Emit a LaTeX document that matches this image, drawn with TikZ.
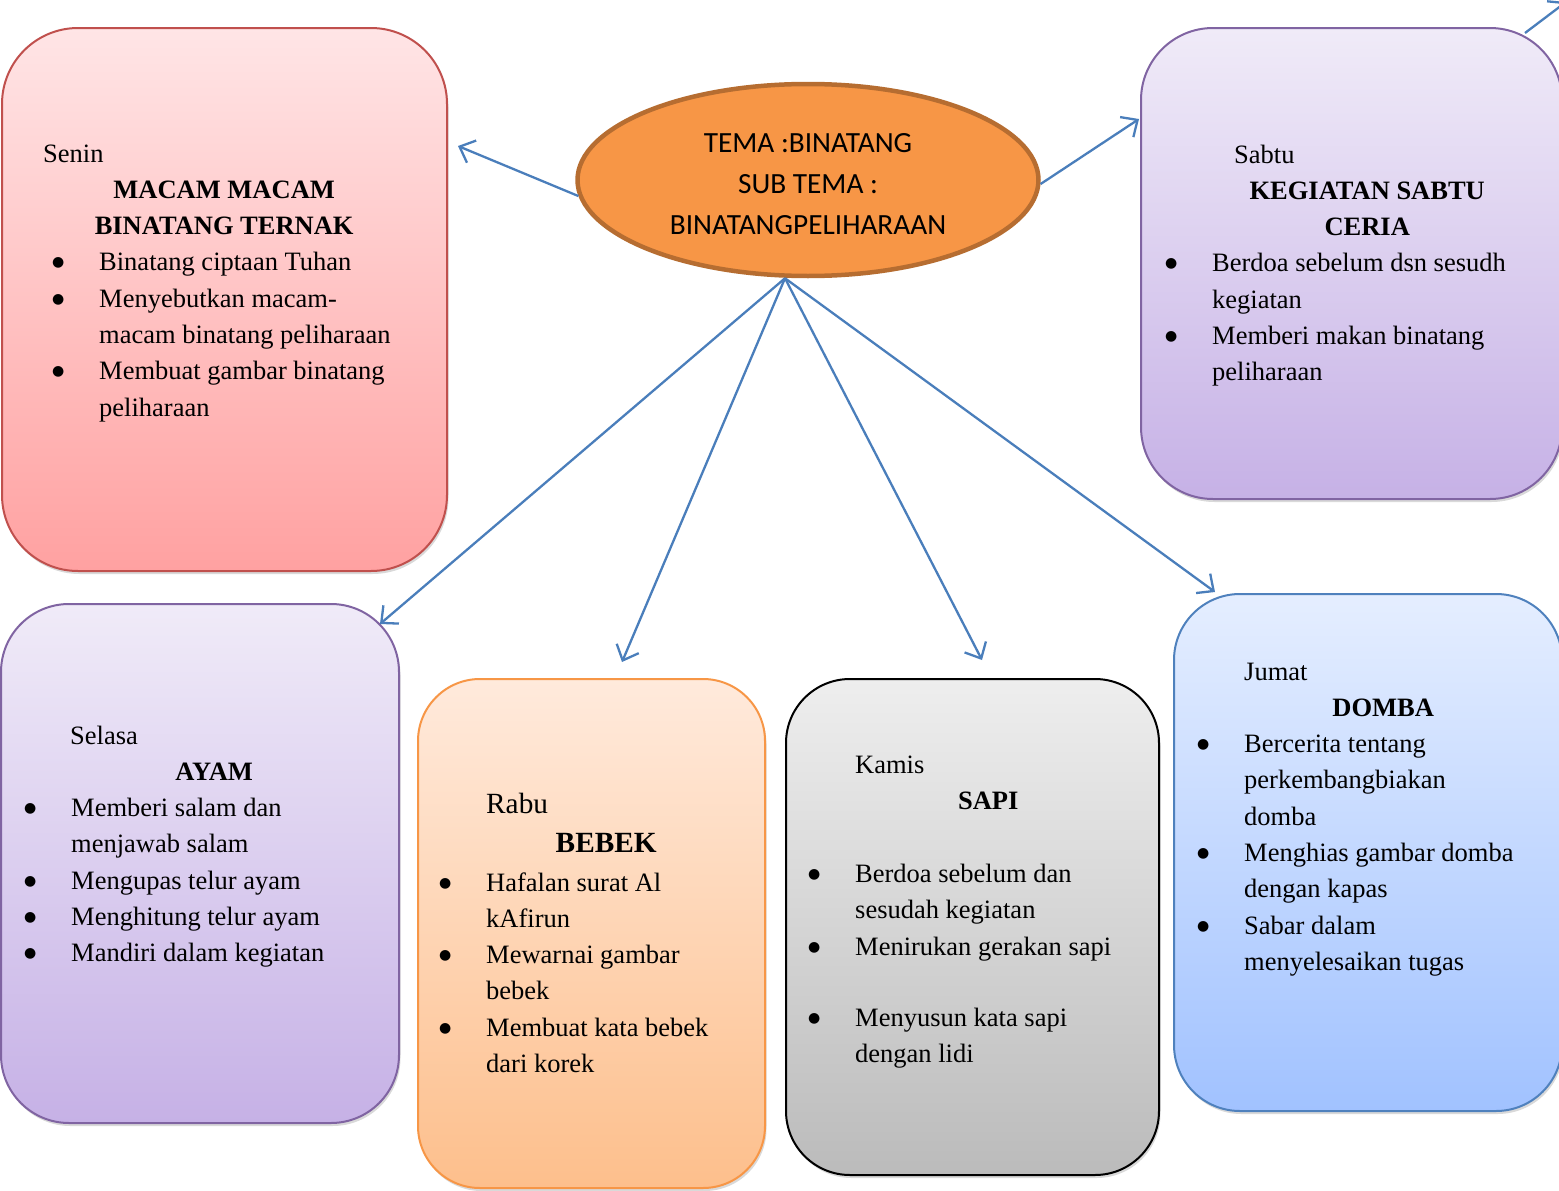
\documentclass[tikz,border=0pt]{standalone}
\usepackage{fontspec}
\setmainfont{Liberation Serif}
\newfontfamily\calib{Carlito}
\newfontfamily\djv{DejaVu Sans}
\usetikzlibrary{shapes.geometric,arrows.meta,shadows,calc}
\definecolor{redT}{HTML}{FFE5E6}\definecolor{redB}{HTML}{FFA1A1}\definecolor{redL}{HTML}{C0504D}
\definecolor{purT}{HTML}{F0EBF8}\definecolor{purB}{HTML}{C6B1E6}\definecolor{purL}{HTML}{8064A2}
\definecolor{orT}{HTML}{FFEADC}\definecolor{orB}{HTML}{FDBF8C}\definecolor{orL}{HTML}{F79646}
\definecolor{grT}{HTML}{EEEEEE}\definecolor{grB}{HTML}{BBBBBB}
\definecolor{blT}{HTML}{E5EEFF}\definecolor{blB}{HTML}{A1C2FF}\definecolor{blL}{HTML}{4F81BD}
\definecolor{elF}{HTML}{F79646}\definecolor{elL}{HTML}{B66D31}
\definecolor{arrC}{HTML}{4A7EBB}
\newcommand\bigbul{\smash{\raisebox{4pt}{\djv\fontsize{14}{0}\selectfont ●}}}
\newcommand\itm[1]{\leavevmode\llap{\makebox[0pt][c]{\bigbul}\hspace{41pt}}#1}
\newcommand\lab[2]{\makebox[0pt][l]{\hspace*{#1pt}#2}}
\newcommand\hd[2]{\makebox[0pt][l]{\hspace*{#1pt}\makebox[0pt][c]{\bfseries #2}}}
\newcommand\bodyfont{\fontsize{26.5}{36.3}\selectfont}
\begin{document}
\begin{tikzpicture}[x=1pt,y=-1pt,
  card/.style={rectangle, line width=2pt, inner sep=0pt,
    drop shadow={shadow xshift=1.5pt,shadow yshift=-3pt,opacity=.3}},
  txt/.style={anchor=base west, inner sep=0pt, align=left},
  arr/.style={draw=arrC, line width=2.3pt, -{Straight Barb[length=13pt,width=24pt,line width=2.3pt]}}]
\useasboundingbox (0,0) rectangle (1559,1191);
% boxes
\node[card, draw=redL, top color=redT, bottom color=redB, rounded corners=76pt,
  minimum width=445pt, minimum height=543pt] (senin) at (224.5,299.5) {};
\node[card, draw=purL, top color=purT, bottom color=purB, rounded corners=72pt,
  minimum width=421pt, minimum height=471pt] (sabtu) at (1351.5,263.5) {};
\node[card, draw=purL, top color=purT, bottom color=purB, rounded corners=68pt,
  minimum width=398pt, minimum height=519pt] (selasa) at (200,863.5) {};
\node[card, draw=orL, top color=orT, bottom color=orB, rounded corners=62pt,
  minimum width=347pt, minimum height=509pt] (rabu) at (591.5,933.5) {};
\node[card, draw=black, top color=grT, bottom color=grB, rounded corners=64pt,
  minimum width=373pt, minimum height=496pt] (kamis) at (972.5,927) {};
\node[card, draw=blL, top color=blT, bottom color=blB, rounded corners=66pt,
  minimum width=388pt, minimum height=517pt] (jumat) at (1368,852.5) {};
% central ellipse
\node[ellipse, draw=elL, fill=elF, line width=4.5pt, minimum width=461pt, minimum height=192pt,
  inner sep=0pt] (tema) at (808,180) {};
\node[align=center, inner sep=0pt, font=\calib\fontsize{29.3}{41}\selectfont] (temaT) at (808,184)
  {TEMA :BINATANG\\SUB TEMA :\\BINATANGPELIHARAAN};
% texts
\node[txt] (seninT) at (99,162) {\parbox[t]{340pt}{\bodyfont\raggedright
  \lab{-56}{Senin}\\
  \hd{125}{MACAM MACAM}\\
  \hd{125}{BINATANG TERNAK}\\
  \itm{Binatang ciptaan Tuhan}\\
  \itm{Menyebutkan macam-}\\
  macam binatang peliharaan\\
  \itm{Membuat gambar binatang}\\
  peliharaan}};
\node[txt] (sabtuT) at (1212,163) {\parbox[t]{340pt}{\bodyfont\raggedright
  \lab{22}{Sabtu}\\
  \hd{155}{KEGIATAN SABTU}\\
  \hd{155}{CERIA}\\
  \itm{Berdoa sebelum dsn sesudh}\\
  kegiatan\\
  \itm{Memberi makan binatang}\\
  peliharaan}};
\node[txt] (selasaT) at (71,744) {\parbox[t]{320pt}{\bodyfont\raggedright
  \lab{-1}{Selasa}\\
  \hd{143}{AYAM}\\
  \itm{Memberi salam dan}\\
  menjawab salam\\
  \itm{Mengupas telur ayam}\\
  \itm{Menghitung telur ayam}\\
  \itm{Mandiri dalam kegiatan}}};
\node[txt] (rabuT) at (486,813) {\parbox[t]{270pt}{\bodyfont\raggedright
  \lab{0}{\fontsize{29.3}{36}\selectfont Rabu}\\[2.7pt]
  \hd{120}{\fontsize{29.3}{36}\selectfont BEBEK}\\[2.7pt]
  \itm{Hafalan surat Al}\\
  kAfirun\\
  \itm{Mewarnai gambar}\\
  bebek\\
  \itm{Membuat kata bebek}\\
  dari korek}};
\node[txt] (kamisT) at (855,773) {\parbox[t]{290pt}{\bodyfont\raggedright
  \lab{0}{Kamis}\\
  \hd{133}{SAPI}\\[37pt]
  \itm{Berdoa sebelum dan}\\
  sesudah kegiatan\\
  \itm{Menirukan gerakan sapi}\\[35pt]
  \itm{Menyusun kata sapi}\\
  dengan lidi}};
\node[txt] (jumatT) at (1244,680) {\parbox[t]{300pt}{\bodyfont\raggedright
  \lab{0}{Jumat}\\
  \hd{139}{DOMBA}\\
  \itm{Bercerita tentang}\\
  perkembangbiakan\\
  domba\\
  \itm{Menghias gambar domba}\\
  dengan kapas\\
  \itm{Sabar dalam}\\
  menyelesaikan tugas}};
% connectors
\coordinate (hub) at ($(tema.south)+(-23,0)$);
\coordinate (tSenin) at (458,146);
\coordinate (tSabtu) at (1139,119);
\coordinate (sOut) at (1525,33);
\coordinate (tOut) at (1566,2);
\coordinate (tSelasa) at (380,624);
\coordinate (tRabu) at (622,662);
\coordinate (tKamis) at (982,660);
\coordinate (tJumat) at (1215,592);
\draw[arr] (tema.184) -- (tSenin);
\draw[arr] (tema.-1) -- (tSabtu);
\draw[arr] (sOut) -- (tOut);
\draw[arr] (hub) -- (tSelasa);
\draw[arr] (hub) -- (tRabu);
\draw[arr] (hub) -- (tKamis);
\draw[arr] (hub) -- (tJumat);
\end{tikzpicture}
\end{document}
